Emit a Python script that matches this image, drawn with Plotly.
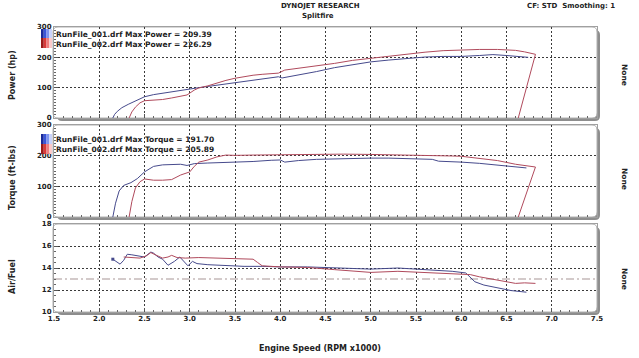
import plotly.graph_objects as go

# ---------------- data ----------------
run1_power_rpm = [2.15, 2.17, 2.2, 2.25, 2.32, 2.4, 2.5, 2.6, 2.7, 2.8, 2.9, 3.0, 3.1, 3.2, 3.3, 3.4, 3.5,
                  3.6, 3.7, 3.8, 3.9, 3.98, 4.02, 4.2, 4.4, 4.6, 4.8, 5.0, 5.2, 5.4, 5.6, 5.8, 6.0, 6.2,
                  6.35, 6.5, 6.6, 6.74]
run1_power_hp = [0, 12, 22, 34, 45, 56, 70, 77, 82, 86, 90, 95, 100, 104, 108, 113, 118,
                 122, 126, 129, 132, 136, 132, 141, 153, 166, 176, 185, 191, 196, 201, 203, 203, 206,
                 209, 206, 204, 200]

run2_power_rpm = [2.33, 2.36, 2.4, 2.45, 2.5, 2.6, 2.7, 2.8, 2.9, 2.97, 3.05, 3.1, 3.2, 3.3, 3.4, 3.5,
                  3.6, 3.7, 3.8, 3.9, 3.98, 4.05, 4.2, 4.4, 4.6, 4.8, 5.0, 5.2, 5.4, 5.6, 5.8, 6.0,
                  6.2, 6.4, 6.5, 6.6, 6.7, 6.82, 6.63]
run2_power_hp = [0, 20, 36, 50, 57, 59, 61, 66, 71, 76, 92, 99, 106, 116, 124, 131,
                 137, 141, 144, 146, 148, 158, 164, 171, 180, 190, 197, 204, 211, 217, 222, 225,
                 226, 226, 225, 223, 218, 210, 0]

run1_torque_rpm = [2.15, 2.18, 2.22, 2.27, 2.35, 2.42, 2.5, 2.6, 2.7, 2.8, 2.9, 2.97, 3.05, 3.2, 3.35,
                   3.5, 3.7, 3.9, 4.0, 4.05, 4.2, 4.4, 4.6, 4.8, 5.0, 5.2, 5.4, 5.6, 5.68, 5.75, 5.9,
                   6.0, 6.2, 6.4, 6.6, 6.72]
run1_torque = [0, 45, 85, 103, 112, 125, 147, 165, 170, 171, 172, 168, 174, 176, 177,
               178, 181, 185, 186, 179, 184, 188, 190, 191, 192, 192, 191, 190, 188, 182, 181,
               179, 175, 170, 164, 160]

run2_torque_rpm = [2.33, 2.36, 2.4, 2.45, 2.5, 2.6, 2.7, 2.8, 2.9, 3.0, 3.05, 3.1, 3.2, 3.3, 3.4, 3.5,
                   3.7, 3.9, 4.1, 4.4, 4.7, 5.0, 5.3, 5.6, 5.9, 6.0, 6.2, 6.4, 6.6, 6.82, 6.63]
run2_torque = [0, 50, 95, 115, 124, 120, 120, 122, 137, 147, 165, 179, 186, 196, 202, 201,
               202, 203, 202, 204, 205, 204, 203, 201, 199, 198, 192, 184, 172, 163, 0]

run1_afr_rpm = [2.15, 2.19, 2.23, 2.27, 2.31, 2.36, 2.44, 2.5, 2.57, 2.6, 2.65, 2.7, 2.76, 2.83, 2.89,
                2.94, 2.98, 3.03, 3.08, 3.2, 3.4, 3.6, 3.8, 4.0, 4.3, 4.6, 5.0, 5.3, 5.6, 5.9, 6.05,
                6.1, 6.15, 6.25, 6.4, 6.55, 6.72]
run1_afr = [14.8, 14.6, 14.35, 14.7, 15.25, 15.2, 15.05, 15.0, 15.45, 15.35, 15.0, 14.8, 14.25, 14.6,
            15.0, 14.6, 14.2, 14.6, 14.4, 14.3, 14.2, 14.15, 14.15, 14.1, 14.1, 14.0, 13.9, 14.0, 13.85,
            13.7, 13.55, 13.1, 12.75, 12.45, 12.2, 11.95, 11.8]

run2_afr_rpm = [2.27, 2.35, 2.45, 2.52, 2.57, 2.62, 2.7, 2.76, 2.8, 2.86, 2.95, 3.1, 3.3, 3.5, 3.7,
                3.75, 3.8, 4.0, 4.3, 4.6, 5.0, 5.3, 5.6, 6.0, 6.1, 6.2, 6.3, 6.4, 6.5, 6.6, 6.7, 6.82]
run2_afr = [15.0, 14.95, 14.9, 15.1, 15.4, 15.2, 14.9, 15.0, 15.15, 14.95, 14.9, 14.95, 14.9, 14.85,
            14.8, 14.5, 14.2, 14.1, 14.05, 13.85, 13.6, 13.7, 13.6, 13.5, 13.4, 13.2, 13.05, 12.9,
            12.8, 12.6, 12.65, 12.6]

afr_reference = 13.0
x_range = [1.5, 7.5]
x_ticks = [1.5, 2.0, 2.5, 3.0, 3.5, 4.0, 4.5, 5.0, 5.5, 6.0, 6.5, 7.0, 7.5]
power_ticks = [0, 100, 200, 300]
torque_ticks = [0, 100, 200, 300]
afr_ticks = [10, 12, 14, 16, 18]

run_names = ["RunFile_001.drf", "RunFile_002.drf"]
max_power = [209.39, 226.29]
max_torque = [191.70, 205.89]

# ---------------- styling ----------------
W, H = 639, 358
L, R, T, B = 54, 42, 27, 46
PW, PH = W - L - R, H - T - B
BLUE = "#464a8c"
RED = "#b04a5c"
FONT = "DejaVu Sans"


def fx(p):
    return (p - L) / PW


def fy(p):
    return (H - B - p) / PH


panels = [(27, 118), (125, 217), (224, 312)]

fig = go.Figure()

line1 = dict(color=BLUE, width=1)
line2 = dict(color=RED, width=1)

fig.add_trace(go.Scatter(x=run1_power_rpm, y=run1_power_hp, mode="lines", line=line1, xaxis="x", yaxis="y"))
fig.add_trace(go.Scatter(x=run2_power_rpm, y=run2_power_hp, mode="lines", line=line2, xaxis="x", yaxis="y"))
fig.add_trace(go.Scatter(x=run1_torque_rpm, y=run1_torque, mode="lines", line=line1, xaxis="x2", yaxis="y2"))
fig.add_trace(go.Scatter(x=run2_torque_rpm, y=run2_torque, mode="lines", line=line2, xaxis="x2", yaxis="y2"))
fig.add_trace(go.Scatter(x=x_range, y=[afr_reference, afr_reference], mode="lines",
                         line=dict(color="#a89595", width=1.2, dash="8px,3px,2px,3px"),
                         xaxis="x3", yaxis="y3"))
fig.add_trace(go.Scatter(x=run1_afr_rpm, y=run1_afr, mode="lines", line=line1, xaxis="x3", yaxis="y3"))
fig.add_trace(go.Scatter(x=run2_afr_rpm, y=run2_afr, mode="lines", line=line2, xaxis="x3", yaxis="y3"))
fig.add_trace(go.Scatter(x=run1_afr_rpm[:1], y=run1_afr[:1], mode="markers",
                         marker=dict(symbol="square", size=3, color=BLUE), xaxis="x3", yaxis="y3"))

tickfont = dict(family=FONT, size=7, color="#222", weight="bold")
grid = dict(showgrid=True, gridcolor="#3a3a3a", gridwidth=1, griddash="2px,2px",
            zeroline=False, showline=True, mirror=True, linecolor="#a0a0a0", linewidth=1)


def xax(anchor, labels):
    return dict(domain=[0, 1], range=x_range, anchor=anchor, tickvals=x_ticks,
                ticktext=[f"{v:.1f}" for v in x_ticks], showticklabels=labels,
                ticks="inside", ticklen=4, tickcolor="#555",
                minor=dict(dtick=0.1, tick0=1.5, ticks="inside", ticklen=2, tickcolor="#666", showgrid=False),
                tickfont=tickfont, **grid)


def yax(anchor, dom, rng, vals, mdt):
    return dict(domain=dom, range=rng, anchor=anchor, tickvals=vals,
                ticks="inside", ticklen=4, tickcolor="#555",
                minor=dict(dtick=mdt, ticks="inside", ticklen=2, tickcolor="#666", showgrid=False),
                tickfont=tickfont, **grid)


doms = [[fy(b), fy(t)] for t, b in panels]

shapes = []


def rrect(x0, y0, x1, y1, r):
    X = lambda v: fx(v)
    Y = lambda v: fy(v)
    return (f"M {X(x0 + r)},{Y(y0)} L {X(x1 - r)},{Y(y0)} Q {X(x1)},{Y(y0)} {X(x1)},{Y(y0 + r)} "
            f"L {X(x1)},{Y(y1 - r)} Q {X(x1)},{Y(y1)} {X(x1 - r)},{Y(y1)} "
            f"L {X(x0 + r)},{Y(y1)} Q {X(x0)},{Y(y1)} {X(x0)},{Y(y1 - r)} "
            f"L {X(x0)},{Y(y0 + r)} Q {X(x0)},{Y(y0)} {X(x0 + r)},{Y(y0)} Z")


for t, b in panels:
    shapes.append(dict(type="path", xref="paper", yref="paper", layer="below",
                       path=rrect(L + 3, t + 3, L + PW + 3, b + 3, 5), fillcolor="#8e8e8e", line=dict(width=0)))
    shapes.append(dict(type="path", xref="paper", yref="paper", layer="below",
                       path=rrect(L - 1, t, L + PW, b, 5), fillcolor="white",
                       line=dict(color="#b0b0b0", width=1)))

swatch_rows = [(29, 38, "blue"), (38, 48, "red"), (134, 144, "blue"), (144, 154, "red")]
blue_grad = ["#1a2a9a", "#3a55d8", "#7f95ef", "#c9d3fb"]
red_grad = ["#9a1a1a", "#d83a3a", "#ef7f7f", "#fbc9c9"]
for y0, y1, c in swatch_rows:
    g = blue_grad if c == "blue" else red_grad
    for i, col in enumerate(g):
        shapes.append(dict(type="rect", xref="paper", yref="paper", layer="above",
                           x0=fx(41 + i * 2.75), x1=fx(41 + (i + 1) * 2.75), y0=fy(y1), y1=fy(y0),
                           fillcolor=col, line=dict(width=0)))

ann = []


def text(s, px, py, size=7.5, xanchor="center", angle=0, yanchor="middle"):
    ann.append(dict(text=s, x=fx(px), y=fy(py), xref="paper", yref="paper", showarrow=False,
                    xanchor=xanchor, yanchor=yanchor, textangle=angle,
                    font=dict(family=FONT, size=size, color="#222", weight="bold")))


text("DYNOJET RESEARCH", 320, 6, 7)
text("Splitfire", 318, 16, 7)
text("CF: STD  Smoothing: 1", 571, 6, 7)
text(f"{run_names[0]} Max Power = {max_power[0]:.2f}", 54, 35, 7.5, "left")
text(f"{run_names[1]} Max Power = {max_power[1]:.2f}", 54, 45, 7.5, "left")
text(f"{run_names[0]} Max Torque = {max_torque[0]:.2f}", 54, 139, 7.5, "left")
text(f"{run_names[1]} Max Torque = {max_torque[1]:.2f}", 54, 149, 7.5, "left")
text("Power (hp)", 12, 75, 8, angle=-90)
text("Torque (ft-lbs)", 12, 178, 8, angle=-90)
text("Air/Fuel", 12, 277, 8, angle=-90)
for yc in (75, 179, 279):
    text("None", 625, yc, 7.5, angle=90)
text("Engine Speed (RPM x1000)", 320, 348, 8)

fig.update_layout(
    width=W, height=H, margin=dict(l=L, r=R, t=T, b=B, pad=0),
    paper_bgcolor="white", plot_bgcolor="rgba(0,0,0,0)", showlegend=False,
    xaxis=xax("y", False), xaxis2=xax("y2", False), xaxis3=xax("y3", True),
    yaxis=yax("x", doms[0], [0, 300], power_ticks, 10),
    yaxis2=yax("x2", doms[1], [0, 300], torque_ticks, 10),
    yaxis3=yax("x3", doms[2], [10, 18], afr_ticks, 0.5),
    shapes=shapes, annotations=ann,
)

fig.write_html("out.html", config={"displayModeBar": False},
               post_script="document.body.style.margin='0px';document.body.style.overflow='hidden';")
